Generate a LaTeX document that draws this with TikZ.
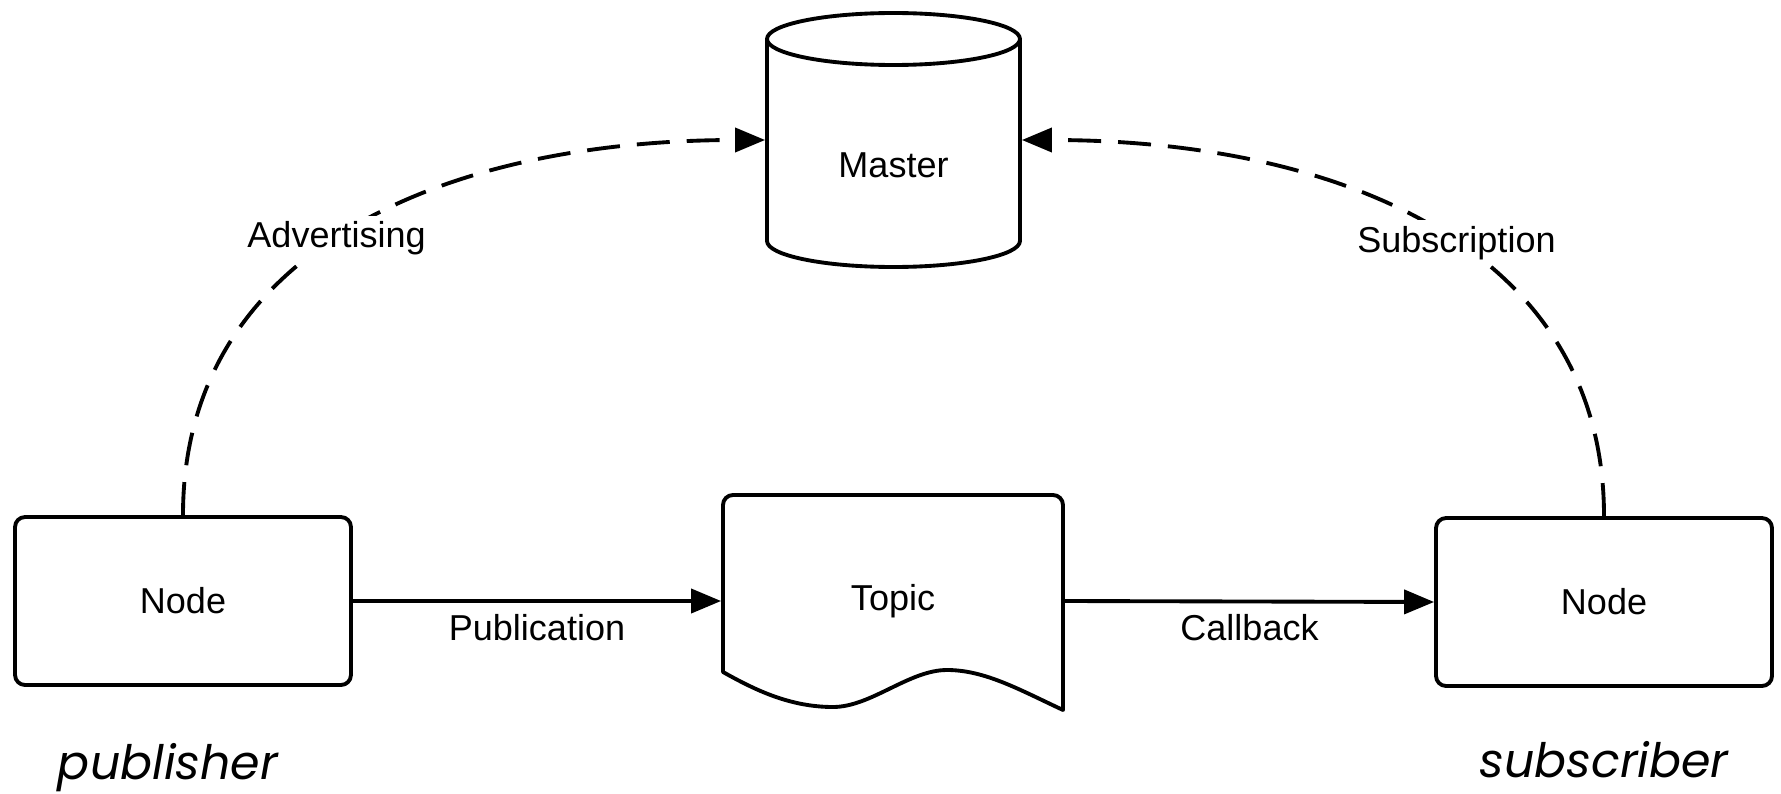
\documentclass[tikz,border=0pt]{standalone}
\usepackage{fontspec}
\setmainfont{Liberation Sans}
\newfontfamily\geofont{Poppins}
\usetikzlibrary{arrows.meta}
\usetikzlibrary{calc}
\tikzset{every picture/.style={line width=2.2pt,line join=round},
  rosnode/.style={draw,rounded corners=0.2cm,minimum width=6.72cm,minimum height=3.36cm,font=\fontsize{20.5}{24}\selectfont},
  tag/.style={font=\fontsize{20.5}{24}\selectfont},
  msg/.style={-{Triangle[length=0.6cm,width=0.48cm]}},
  reg/.style={msg,dash pattern=on 0.66cm off 0.34cm},
  role/.style={font=\geofont\itshape\fontsize{27}{31}\selectfont,anchor=base}}

\begin{document}
\begin{tikzpicture}[x=0.02cm,y=-0.02cm]
\useasboundingbox (0,0) rectangle (1781,794);
% the two ROS nodes
\node (pub) at (183,601) [rosnode] {Node};
\node (sub) at (1604,602) [rosnode] {Node};
\node (publabel) at (168,779) [role] {publisher};
\node (sublabel) at (1604,777) [role] {subscriber};

% master as a cylinder
\node (master) at (893.5,140) [minimum width=5.06cm,minimum height=5.08cm] {};
\draw (767,39) -- (767,241) arc[start angle=180,end angle=360,x radius=2.53cm,y radius=0.52cm] -- (1020,39);
\draw (893.5,39) ellipse [x radius=2.53cm,y radius=0.52cm];
\node (mastertxt) at (893.5,165) [tag] {Master};

% topic as a document
\node (topic) at (893,601) [tag,minimum width=6.8cm] {Topic};
\draw (723,672) [rounded corners=0.2cm] -- (723,495) -- (1063,495) -- (1063,600) [sharp corners] -- (1063,710)
  .. controls (1020,690) and (985,670) .. (947,670)
  .. controls (909,670) and (871,707) .. (833,707)
  .. controls (790,707) and (755,690) .. (723,672) -- cycle;

% connectors
\draw[msg] (pub.east) -- (topic.west) node [midway,below=3pt,tag] {Publication};
\draw[msg] (topic.east) -- (sub.west) node [midway,below=3pt,tag] {Callback};
\draw[reg] (pub.north) .. controls +(0,-267) and +(-317,0) .. (master.west) node [pos=0.47,tag,fill=white] {Advertising};
\draw[reg] (sub.north) .. controls +(0,-268) and +(317,0) .. (master.east) node [pos=0.46,tag,fill=white] {Subscription};
\end{tikzpicture}
\end{document}
